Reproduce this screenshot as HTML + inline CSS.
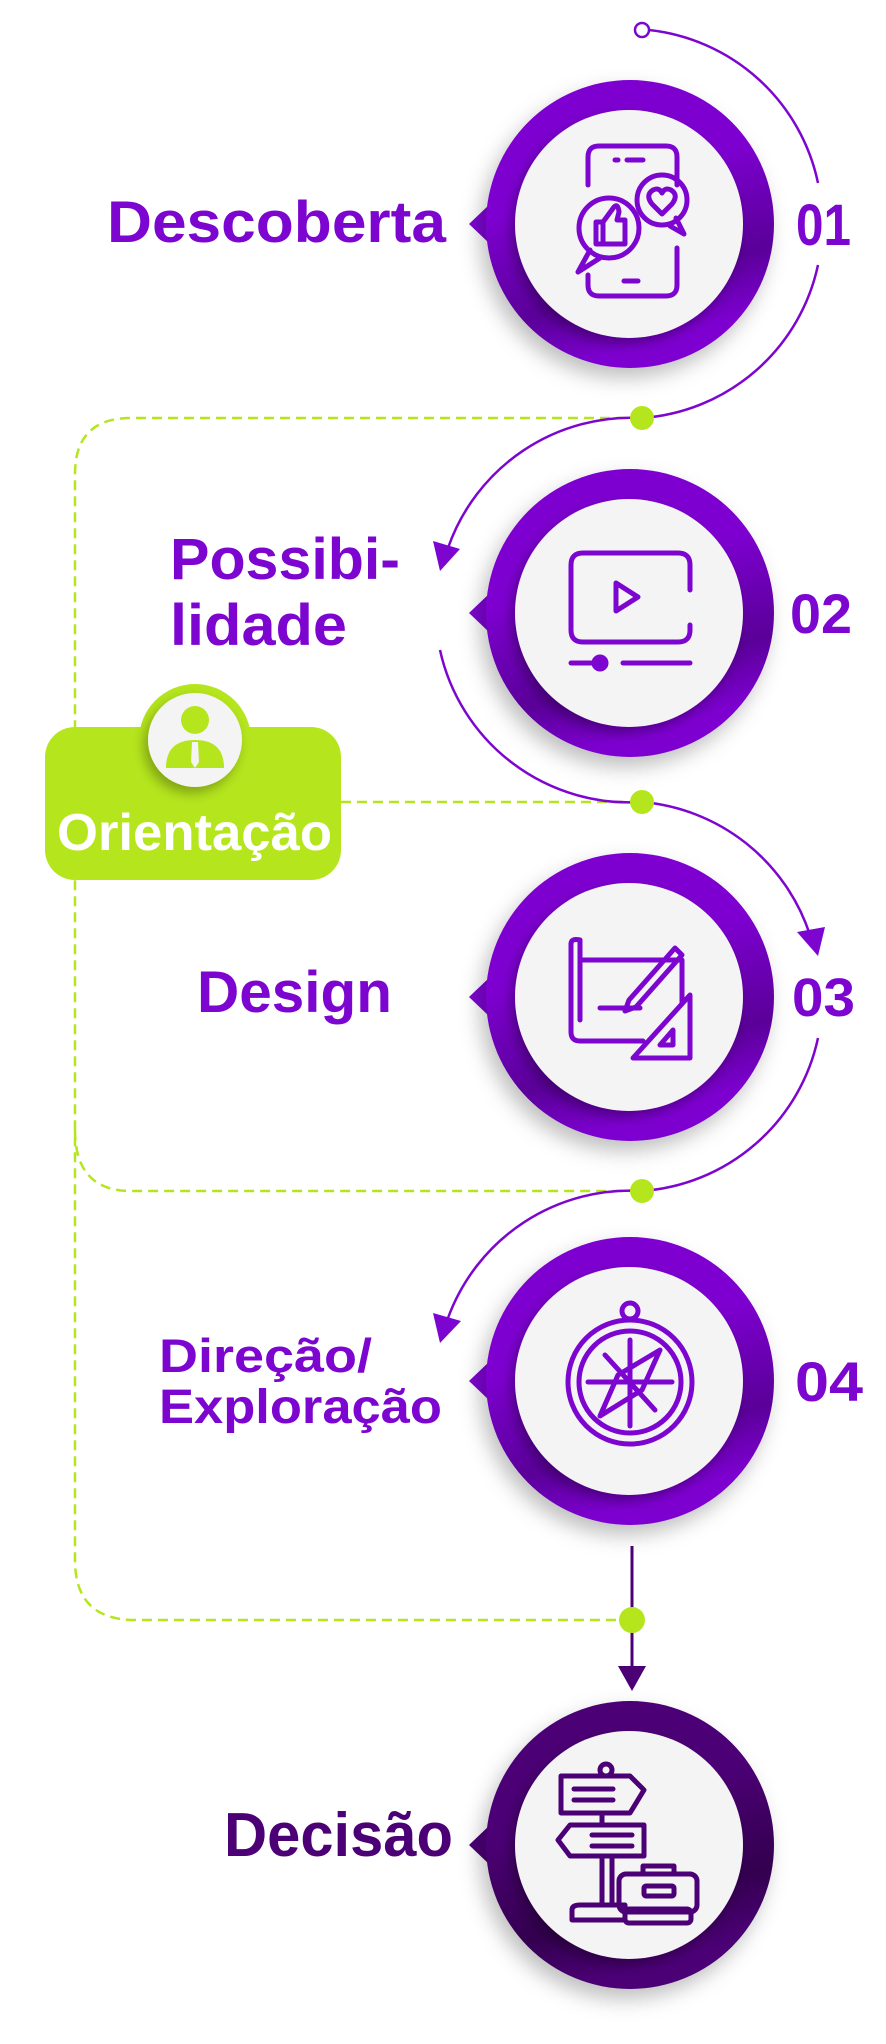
<!DOCTYPE html>
<html><head><meta charset="utf-8"><style>
html,body{margin:0;padding:0;background:#fff;}
svg{display:block;}
text{font-family:"Liberation Sans",sans-serif;font-weight:bold;}
</style></head><body>
<svg width="886" height="2044" viewBox="0 0 886 2044" xmlns="http://www.w3.org/2000/svg">
<defs>
<filter id="sh" x="-30%" y="-30%" width="160%" height="160%"><feDropShadow dx="-6" dy="10" stdDeviation="10" flood-color="#000" flood-opacity="0.25"/></filter>
<filter id="sh2" x="-30%" y="-30%" width="160%" height="160%"><feDropShadow dx="-4" dy="6" stdDeviation="6" flood-color="#000" flood-opacity="0.3"/></filter>
<linearGradient id="pg" x1="0" y1="0" x2="0.3" y2="1"><stop offset="0.45" stop-color="#7d05d0"/><stop offset="0.8" stop-color="#5a0399"/><stop offset="1" stop-color="#7d05d0"/></linearGradient>
<linearGradient id="dg" x1="0" y1="0" x2="0.3" y2="1"><stop offset="0.45" stop-color="#4b0075"/><stop offset="0.8" stop-color="#33004f"/><stop offset="1" stop-color="#4b0075"/></linearGradient>
</defs>

<g fill="none" stroke="#b5e61d" stroke-width="2.5" stroke-dasharray="10 6">
<path d="M642 418 H131 Q75 418 75 474 V1560 Q75 1620 135 1620 H632"/>
<path d="M75 1130 Q75 1191 131 1191 H642"/>
<path d="M341 802 H642"/>
</g>

<g fill="none" stroke="#7d05d0" stroke-width="2.5">
<path d="M649 30 A194 194 0 0 1 818 183"/>
<path d="M818 265 A194 194 0 0 1 642 418"/>
<path d="M642 418 A194 194 0 0 0 448 548"/>
<path d="M440 650 A194 194 0 0 0 642 802"/>
<path d="M642 802 A194 194 0 0 1 810 935"/>
<path d="M818 1038 A194 194 0 0 1 642 1191"/>
<path d="M642 1191 A194 194 0 0 0 448 1318"/>
</g>
<circle cx="642" cy="30" r="7" fill="#fff" stroke="#7d05d0" stroke-width="2.5"/>
<polygon points="440,571 433,541 460,549" fill="#7d05d0"/>
<polygon points="818,956 797,932 825,927" fill="#7d05d0"/>
<polygon points="440,1343 433,1313 461,1321" fill="#7d05d0"/>
<line x1="632" y1="1546" x2="632" y2="1670" stroke="#4b0075" stroke-width="3"/>
<polygon points="632,1691 618,1666 646,1666" fill="#4b0075"/>
<circle cx="642" cy="418" r="12" fill="#b5e61d"/>
<circle cx="642" cy="802" r="12" fill="#b5e61d"/>
<circle cx="642" cy="1191" r="12" fill="#b5e61d"/>
<circle cx="632" cy="1620" r="13" fill="#b5e61d"/>

<polygon points="469,224 490,204 490,244" fill="#7d05d0"/>
<circle cx="630" cy="224" r="144" fill="url(#pg)" filter="url(#sh)"/>
<circle cx="629" cy="224" r="114" fill="#f4f4f4" filter="url(#sh2)"/>
<polygon points="469,613 490,593 490,633" fill="#7d05d0"/>
<circle cx="630" cy="613" r="144" fill="url(#pg)" filter="url(#sh)"/>
<circle cx="629" cy="613" r="114" fill="#f4f4f4" filter="url(#sh2)"/>
<polygon points="469,997 490,977 490,1017" fill="#7d05d0"/>
<circle cx="630" cy="997" r="144" fill="url(#pg)" filter="url(#sh)"/>
<circle cx="629" cy="997" r="114" fill="#f4f4f4" filter="url(#sh2)"/>
<polygon points="469,1381 490,1361 490,1401" fill="#7d05d0"/>
<circle cx="630" cy="1381" r="144" fill="url(#pg)" filter="url(#sh)"/>
<circle cx="629" cy="1381" r="114" fill="#f4f4f4" filter="url(#sh2)"/>
<polygon points="469,1845 490,1825 490,1865" fill="#4b0075"/>
<circle cx="630" cy="1845" r="144" fill="url(#dg)" filter="url(#sh)"/>
<circle cx="629" cy="1845" r="114" fill="#f4f4f4" filter="url(#sh2)"/>

<g fill="none" stroke="#7d05d0" stroke-width="5" stroke-linecap="round" stroke-linejoin="round">
<path d="M588 185 V157 Q588 146 599 146 H666 Q677 146 677 157 V185"/>
<path d="M677 248 V285 Q677 296 666 296 H599 Q588 296 588 285 V275"/>
<line x1="615" y1="160" x2="618" y2="160"/><line x1="627" y1="160" x2="643" y2="160"/>
<line x1="624" y1="281" x2="638" y2="281"/>
<circle cx="609" cy="228" r="30"/><path d="M590 250 L578 272 L600 258"/>
<circle cx="662" cy="200" r="25"/><path d="M676 218 L684 234 L670 226"/>
<path d="M662 214 L652 204 Q645 195 653 190 Q659 187 662 193 Q665 187 671 190 Q679 195 672 204 Z"/>
<path d="M596 222 H603 V244 H596 Z M603 222 L614 207 Q618 203 619 212 L617 220 H625 V244 H603"/>
<path d="M690 590 V565 Q690 553 678 553 H583 Q571 553 571 565 V630 Q571 642 583 642 H678 Q690 642 690 630 V625"/>
<path d="M616 583 V611 L638 597 Z"/>
<line x1="571" y1="663" x2="600" y2="663"/><circle cx="600" cy="663" r="6" fill="#7d05d0"/><line x1="623" y1="663" x2="690" y2="663"/>
<path d="M571 944 V1032 Q571 1041 580 1041 H643"/>
<path d="M571 944 Q571 938 580 940 V1020"/>
<path d="M580 960 H682 V1002"/>
<path d="M629 1000 L675 948 L682 955 L636 1007 L625 1011 Z"/>
<line x1="600" y1="1008" x2="640" y2="1008"/>
<path d="M690 995 V1058 H633 Z"/><path d="M673 1030 V1045 H660 Z"/>
<circle cx="630" cy="1382" r="62"/><circle cx="630" cy="1382" r="51"/>
<circle cx="630" cy="1311" r="8"/>
<line x1="630" y1="1340" x2="630" y2="1426"/><line x1="588" y1="1382" x2="672" y2="1382"/>
<line x1="605" y1="1355" x2="655" y2="1410"/>
<path d="M600 1416 L618 1375 L660 1350 L642 1390 Z"/>
</g>
<g fill="none" stroke="#4b0075" stroke-width="5" stroke-linejoin="round" stroke-linecap="round">
<path d="M561 1776 H630 L644 1790 L630 1813 H561 Z"/>
<line x1="574" y1="1789" x2="613" y2="1789"/><line x1="574" y1="1800" x2="613" y2="1800"/>
<circle cx="606" cy="1770" r="6"/>
<path d="M570 1825 H644 V1856 H570 L558 1840 Z"/>
<line x1="592" y1="1835" x2="632" y2="1835"/><line x1="592" y1="1846" x2="632" y2="1846"/>
<path d="M602 1813 V1825 M602 1856 V1905 M612 1856 V1905"/>
<path d="M572 1920 V1910 Q572 1905 580 1905 H625 V1920 Z"/>
<rect x="619" y="1874" width="78" height="38" rx="7"/>
<rect x="625" y="1909" width="66" height="14" rx="4"/>
<path d="M643 1874 V1866 H674 V1874"/><rect x="644" y="1886" width="30" height="10" rx="2"/>
</g>

<rect x="45" y="727" width="296" height="153" rx="30" fill="#b5e61d"/>
<circle cx="195" cy="740" r="56" fill="#b5e61d"/>
<circle cx="195" cy="740" r="47" fill="#f4f4f4" filter="url(#sh2)"/>
<circle cx="195" cy="720" r="14" fill="#b5e61d"/>
<path d="M166 768 Q166 740 195 740 Q224 740 224 768 Z" fill="#b5e61d"/>
<path d="M192 742 L198 742 L199 762 L195 768 L191 762 Z" fill="#f4f4f4"/>
<text x="57" y="850" font-size="52" fill="#fff" textLength="275" lengthAdjust="spacingAndGlyphs">Orientação</text>

<g fill="#7d05d0">
<text x="107" y="242" font-size="58" textLength="339" lengthAdjust="spacingAndGlyphs">Descoberta</text>
<text x="796" y="245" font-size="58" textLength="55" lengthAdjust="spacingAndGlyphs">01</text>
<text x="170" y="579" font-size="58" textLength="230" lengthAdjust="spacingAndGlyphs">Possibi-</text>
<text x="170" y="645" font-size="58" textLength="177" lengthAdjust="spacingAndGlyphs">lidade</text>
<text x="790" y="633" font-size="56" textLength="62" lengthAdjust="spacingAndGlyphs">02</text>
<text x="197" y="1012" font-size="58" textLength="195" lengthAdjust="spacingAndGlyphs">Design</text>
<text x="792" y="1016" font-size="54" textLength="63" lengthAdjust="spacingAndGlyphs">03</text>
<text x="159" y="1372" font-size="47" textLength="213" lengthAdjust="spacingAndGlyphs">Direção/</text>
<text x="159" y="1423" font-size="48" textLength="283" lengthAdjust="spacingAndGlyphs">Exploração</text>
<text x="795" y="1401" font-size="56" textLength="68" lengthAdjust="spacingAndGlyphs">04</text>
</g>
<text x="224" y="1856" font-size="62" fill="#4b0075" textLength="229" lengthAdjust="spacingAndGlyphs">Decisão</text>
</svg>
</body></html>
